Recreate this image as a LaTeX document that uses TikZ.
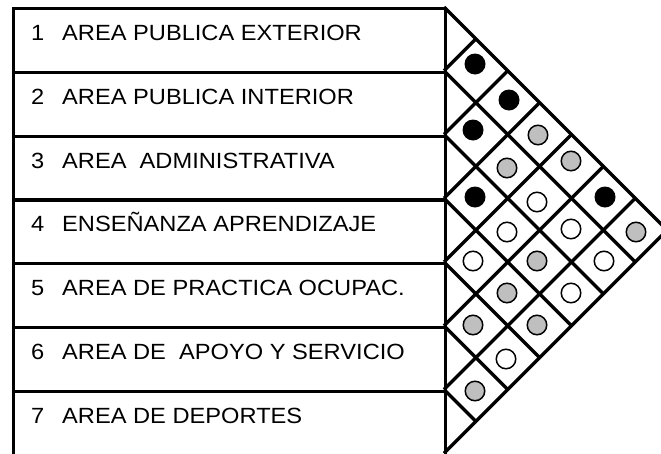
\documentclass[tikz,border=0pt]{standalone}
\usepackage{fontspec}
\setmainfont[FakeStretch=1.075]{Liberation Sans}
\definecolor{dotgray}{HTML}{BFBFBF}
\begin{document}
\begin{tikzpicture}[x=1pt,y=-1pt,
  rowbox/.style={draw,line width=3.4pt,minimum width=432pt,minimum height=63.75pt,inner sep=0pt,anchor=north west},
  rowtext/.style={anchor=base west,inner sep=0pt,font=\fontsize{22}{26}\selectfont},
  grid/.style={line width=3.4pt},
  blk/.style={circle,fill=black,minimum size=21pt,inner sep=0pt},
  gry/.style={circle,draw,fill=dotgray,line width=1.5pt,minimum size=19.5pt,inner sep=0pt},
  wht/.style={circle,draw,fill=white,line width=1.5pt,minimum size=19.5pt,inner sep=0pt}]
\useasboundingbox (0,0) rectangle (661,453);
\clip (0,0) rectangle (661,453);
\def\h{63.75}
% rows
\foreach \k/\txt in {1/AREA PUBLICA EXTERIOR,2/AREA PUBLICA INTERIOR,3/AREA\ \ ADMINISTRATIVA,4/ENSEÑANZA APRENDIZAJE,5/AREA DE PRACTICA OCUPAC.,6/AREA DE\ \ APOYO Y SERVICIO}{
  \pgfmathsetmacro\top{7+(\k-1)*\h}
  \node[rowbox] (r\k) at (12,\top) {};
  \node[rowtext] (n\k) at (31,\top+33.5) {\k};
  \node[rowtext] (t\k) at (62,\top+33.5) {\txt};
}
\pgfmathsetmacro\topseven{7+6*\h}
\node[rowbox,minimum height=75pt] (r7) at (12,\topseven) {};
\node[rowtext] (n7) at (31,\topseven+33.5) {7};
\node[rowtext] (t7) at (62,\topseven+33.5) {AREA DE DEPORTES};
% triangle outline
\coordinate (T0) at (444,7);
\coordinate (apex) at (444+3.5*\h,7+3.5*\h);
\coordinate (T7) at (444,7+7*\h);
\draw[grid,line join=miter] (T0) -- (apex) -- (T7);
% diamond grid
\foreach \k in {1,...,6}{
  \pgfmathsetmacro\b{7+\k*\h}
  \pgfmathsetmacro\td{(7-\k)*\h/2}
  \pgfmathsetmacro\tu{\k*\h/2}
  \coordinate (L\k) at (444,\b);
  \draw[grid] (L\k) -- ++(\td,\td);
  \draw[grid] (L\k) -- ++(\tu,-\tu);
}
% dots
\node[blk] (c12) at (475,64) {};
\node[blk] (c13) at (509,100) {};
\node[blk] (c23) at (473,130) {};
\node[gry] (c14) at (538,135) {};
\node[gry] (c24) at (507,168) {};
\node[gry] (c15) at (571,161) {};
\node[blk] (c34) at (475,197) {};
\node[wht] (c25) at (537,202) {};
\node[blk] (c16) at (605,197) {};
\node[wht] (c35) at (507,232) {};
\node[wht] (c26) at (571,229) {};
\node[gry] (c17) at (636,232) {};
\node[wht] (c45) at (473,261) {};
\node[gry] (c36) at (537,261) {};
\node[wht] (c27) at (604,261) {};
\node[gry] (c46) at (507,293) {};
\node[wht] (c37) at (571,293) {};
\node[gry] (c56) at (473,325) {};
\node[gry] (c47) at (537,325) {};
\node[wht] (c57) at (506,359) {};
\node[gry] (c67) at (475,391) {};
\end{tikzpicture}
\end{document}
